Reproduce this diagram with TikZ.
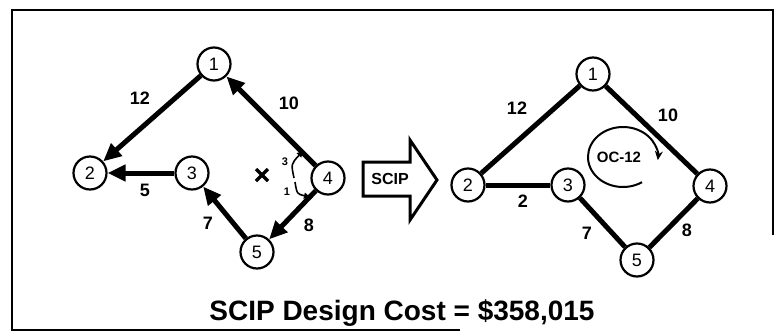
\documentclass[tikz,border=0pt]{standalone}
\usepackage{fontspec}
\setmainfont{Liberation Sans}
\usetikzlibrary{arrows.meta}
\begin{document}
\begin{tikzpicture}[x=1pt,y=-1pt,
  vnode/.style={circle,draw,line width=2.2pt,minimum size=33pt,inner sep=0pt,fill=white,font=\fontsize{18}{18}\selectfont},
  elabel/.style={font=\fontsize{18}{18}\selectfont\bfseries},
  darrow/.style={line width=5pt,-{Triangle[length=18pt,width=16pt]}},
  link/.style={line width=5pt},
  smallarrow/.style={line width=1.6pt,-{Triangle[length=6pt,width=6pt]}},
  frame/.style={line width=2pt}
]
\useasboundingbox (0,0) rectangle (780,335);
% frame
\draw[frame] (773,235) -- (773,10) -- (12,10) -- (12,330) -- (460,330);

% left graph
\node[vnode] (a1) at (214,64) {1};
\node[vnode] (a2) at (90,173) {2};
\node[vnode] (a3) at (192,173) {3};
\node[vnode] (a4) at (328,178) {4};
\node[vnode] (a5) at (257,252) {5};
\draw[darrow] (a1) -- (a2);
\draw[darrow] (a4) -- (a1);
\draw[darrow] (a3) -- (a2);
\draw[darrow] (a5) -- (a3);
\draw[darrow] (a4) -- (a5);
\node[elabel] (l12) at (140,98) {12};
\node[elabel] (l10) at (289,103) {10};
\node[elabel] (l5) at (145,190) {5};
\node[elabel] (l7) at (208,223) {7};
\node[elabel] (l8) at (309,225) {8};
% cross and small arrows
\draw[line width=3.5pt] (256,169) -- (268,181) (256,181) -- (268,169);
\node[font=\fontsize{11}{11}\selectfont\bfseries] (s3) at (285,162) {3};
\node[font=\fontsize{11}{11}\selectfont\bfseries] (s1) at (287,192) {1};
\coordinate (u0) at (294,178);
\coordinate (u1) at (303,151);
\coordinate (d0) at (295,182);
\coordinate (d1) at (310,197);
\draw[smallarrow] (u0) .. controls (291,164) .. (u1);
\draw[smallarrow] (d0) .. controls (297,194) .. (d1);

% SCIP arrow
\draw[line width=3pt,line join=miter] (363,162) -- (410,162) -- (410,140) -- (437,180) -- (410,220) -- (410,196) -- (363,196) -- cycle;
\node[font=\fontsize{16}{16}\selectfont\bfseries] (scip) at (390,179) {SCIP};

% right graph
\node[vnode] (b1) at (593,74) {1};
\node[vnode] (b2) at (468,185) {2};
\node[vnode] (b3) at (568,185) {3};
\node[vnode] (b4) at (710,186) {4};
\node[vnode] (b5) at (637,260) {5};
\draw[link] (b1) -- (b2);
\draw[link] (b1) -- (b4);
\draw[link] (b2) -- (b3);
\draw[link] (b3) -- (b5);
\draw[link] (b4) -- (b5);
\node[elabel] (r12) at (517,108) {12};
\node[elabel] (r10) at (668,115) {10};
\node[elabel] (r2) at (523,201) {2};
\node[elabel] (r7) at (587,233) {7};
\node[elabel] (r8) at (687,230) {8};
\node[font=\fontsize{15}{15}\selectfont\bfseries] (oc) at (619,157) {OC-12};
\draw[line width=2pt,-{Stealth[length=9pt,width=8pt]}] (642.06,182.16) arc[start angle=57,end angle=366,x radius=35,y radius=30];

% title
\node[font=\fontsize{28}{28}\selectfont\bfseries,anchor=base] (title) at (402,320) {SCIP Design Cost = \$358,015};
\end{tikzpicture}
\end{document}
